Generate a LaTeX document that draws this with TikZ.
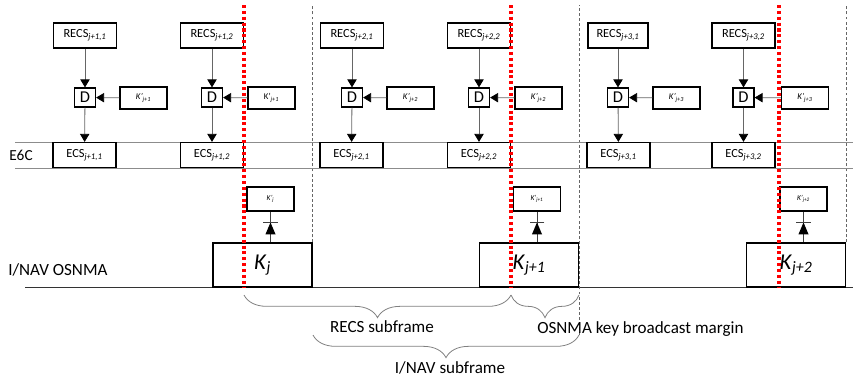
\documentclass[tikz,border=0pt]{standalone}
\usepackage{fontspec}
\setmainfont{Carlito}
\usepackage{tikz}
\usetikzlibrary{arrows.meta,decorations.pathreplacing,decorations.markings}

\newcommand{\recs}[1]{RECS\textsubscript{\textit{#1}}}
\newcommand{\ecs}[1]{ECS\textsubscript{\textit{#1}}}
\newcommand{\kp}[1]{\textit{K’}\textsubscript{\textit{#1}}}

\begin{document}
\begin{tikzpicture}[x=0.75pt,y=-0.75pt,
		box/.style={draw=black, line width=0.9pt, fill=white, inner sep=0pt},
		recsbox/.style={box, minimum width=47.25pt, minimum height=18.75pt, font=\fontsize{9.3}{11}\selectfont},
		dbox/.style={box, minimum width=15.75pt, minimum height=14.25pt, font=\fontsize{12.4}{14}\selectfont},
		keybox/.style={box, minimum width=35.25pt, minimum height=16.5pt, font=\fontsize{6.6}{8}\selectfont},
		bigkey/.style={box, minimum width=74.25pt, minimum height=33pt, font=\fontsize{17}{20}\selectfont},
		arr/.style={draw=black!60, line width=0.6pt, -{Triangle[length=6pt,width=7pt,color=black]}},
		keyup/.style={draw=black!75, line width=0.6pt, postaction={decorate},
			decoration={markings, mark=at position 15pt with {\fill[black] (0,0) -- (-9pt,3.8pt) -- (-9pt,-3.8pt) -- cycle; \draw[black!75] (0,-5.6pt) -- (0,5.6pt);}}},
		lane/.style={draw=black!45, line width=0.6pt},
		sep/.style={draw=black!60, line width=0.5pt, dash pattern=on 2.2pt off 1.6pt},
		cut/.style={draw=red, line width=2.5pt, dash pattern=on 2.3pt off 2.1pt},
		brc/.style={draw=black!50, line width=0.6pt, decorate, decoration={brace, mirror, amplitude=17pt}},
		lbl/.style={font=\fontsize{12.8}{15}\selectfont, inner sep=0pt}]
			\useasboundingbox (0,0) rectangle (853,382);
			
			\draw[lane] (15,142) -- (853,142);
			\draw[lane] (15,168) -- (853,168);
			\draw[black!80, line width=0.7pt] (25,287) -- (853,287);
			
			\node[lbl, anchor=west, font=\fontsize{11.5}{13}\selectfont] (e6c) at (9,155) {E6C};
			\node[lbl, anchor=west] (inav) at (8,270) {I/NAV OSNMA};
			
			\node[recsbox] (r1) at (85,35.5) {\recs{j+1,1}};
			\node[recsbox] (r2) at (212,35.5) {\recs{j+1,2}};
			\node[recsbox] (r3) at (352,35.5) {\recs{j+2,1}};
			\node[recsbox] (r4) at (479,35.5) {\recs{j+2,2}};
			\node[recsbox, minimum width=45pt] (r5) at (618,35.5) {\recs{j+3,1}};
			\node[recsbox] (r6) at (743.5,35.5) {\recs{j+3,2}};
			
			\node[dbox] (d1) at (85,97.5) {D};
			\node[dbox] (d2) at (212,97.5) {D};
			\node[dbox] (d3) at (352,97.5) {D};
			\node[dbox] (d4) at (479,97.5) {D};
			\node[dbox] (d5) at (618,97.5) {D};
			\node[dbox] (d6) at (743.5,97.5) {D};
			
			\node[keybox] (k1) at (143.5,98) {\kp{j+1}};
			\node[keybox] (k2) at (271.5,98) {K’\textsubscript{\textit{j+1}}};
			\node[keybox] (k3) at (410.5,98) {\kp{j+2}};
			\node[keybox] (k4) at (538.5,98) {\kp{j+2}};
			\node[keybox] (k5) at (676.5,98) {\kp{j+3}};
			\node[keybox] (k6) at (805,98) {\kp{j+3}};
			
			\node[recsbox] (e1) at (84.5,155) {\ecs{j+1,1}};
			\node[recsbox] (e2) at (212,155) {\ecs{j+1,2}};
			\node[recsbox] (e3) at (351.5,155) {\ecs{j+2,1}};
			\node[recsbox] (e4) at (479,155) {\ecs{j+2,2}};
			\node[recsbox] (e5) at (618.5,155) {\ecs{j+3,1}};
			\node[recsbox] (e6) at (743.5,155) {\ecs{j+3,2}};
			
			\draw[arr] (r1) -- (d1); \draw[arr] (d1) -- (e1); \draw[arr] (k1) -- (d1);
			\draw[arr] (r2) -- (d2); \draw[arr] (d2) -- (e2); \draw[arr] (k2) -- (d2);
			\draw[arr] (r3) -- (d3); \draw[arr] (d3) -- (e3); \draw[arr] (k3) -- (d3);
			\draw[arr] (r4) -- (d4); \draw[arr] (d4) -- (e4); \draw[arr] (k4) -- (d4);
			\draw[arr] (r5) -- (d5); \draw[arr] (d5) -- (e5); \draw[arr] (k5) -- (d5);
			\draw[arr] (r6) -- (d6); \draw[arr] (d6) -- (e6); \draw[arr] (k6) -- (d6);
			
			\node[bigkey] (kj0) at (262.5,265) {\textit{K}\textsubscript{\textit{j}}};
			\node[bigkey] (kj1) at (529,265) {\textit{K}\textsubscript{\textit{j+1}}};
			\node[bigkey] (kj2) at (796,265) {\textit{K}\textsubscript{\textit{j+2}}};
			
			\node[keybox, minimum height=18pt, font=\fontsize{5.6}{7}\selectfont] (kp0) at (270.5,199) {\kp{j}};
			\node[keybox, minimum height=18pt, font=\fontsize{5.6}{7}\selectfont] (kp1) at (537,199) {\kp{j+1}};
			\node[keybox, minimum height=18pt, font=\fontsize{5.6}{7}\selectfont] (kp2) at (803.5,199) {\kp{j+2}};
			
			\draw[keyup] (kp0 |- kj0.north) -- (kp0.south);
			\draw[keyup] (kp1 |- kj1.north) -- (kp1.south);
			\draw[keyup] (kp2 |- kj2.north) -- (kp2.south);
			
			\draw[sep] (kj0.north east) -- (kj0.north east |- 0,5);
			\draw[sep] (579,335) -- (579,5);
			\draw[sep] (kj2.north east) -- (kj2.north east |- 0,5);
			
			\coordinate (b0) at (244,295);
			\coordinate (b1) at (511,295);
			\coordinate (b2) at (579,295);
			\coordinate (b3) at (313,335);
			\coordinate (b4) at (579,335);
			\draw[brc] (b0) -- (b1);
			\draw[brc] (b1) -- (b2);
			\draw[brc] (b3) -- (b4);
			
			\node[lbl] (recsf) at (382,327) {RECS subframe};
			\node[lbl, anchor=west] (margin) at (537,329) {OSNMA key broadcast margin};
			\node[lbl] (inavsf) at (450,368) {I/NAV subframe};
			
			\draw[cut] (244,5) -- (244,287);
			\draw[cut] (511,5) -- (511,287);
			\draw[cut] (779,5) -- (779,287);
		\end{tikzpicture}
\end{document}
